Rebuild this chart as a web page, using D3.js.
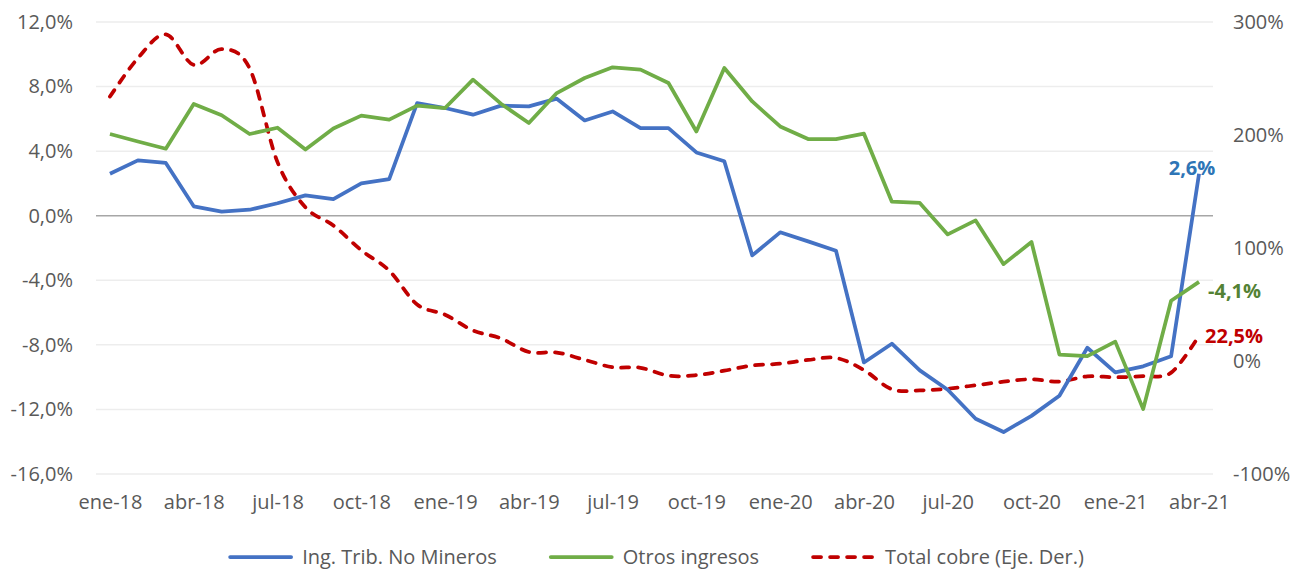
<!DOCTYPE html>
<html>
<head>
<meta charset="utf-8">
<script src="https://cdn.jsdelivr.net/npm/d3@7"></script>
<style>
  body { margin: 0; background: #fff; }
  text { font-family: "Open Sans", "Noto Sans", sans-serif; }
</style>
</head>
<body>
<svg id="chart" width="1311" height="572"></svg>
<script>
// months ene-18 .. abr-21
var months = ["ene-18","feb-18","mar-18","abr-18","may-18","jun-18","jul-18","ago-18","sep-18","oct-18","nov-18","dic-18",
  "ene-19","feb-19","mar-19","abr-19","may-19","jun-19","jul-19","ago-19","sep-19","oct-19","nov-19","dic-19",
  "ene-20","feb-20","mar-20","abr-20","may-20","jun-20","jul-20","ago-20","sep-20","oct-20","nov-20","dic-20",
  "ene-21","feb-21","mar-21","abr-21"];

var ingTrib = [2.6, 3.43, 3.27, 0.58, 0.25, 0.37, 0.77, 1.26, 1.03, 2.0, 2.27, 6.98,
  6.67, 6.26, 6.82, 6.77, 7.25, 5.9, 6.46, 5.43, 5.43, 3.92, 3.37, -2.46,
  -1.03, -1.59, -2.17, -9.09, -7.93, -9.58, -10.78, -12.58, -13.4, -12.4, -11.15, -8.18,
  -9.7, -9.33, -8.71, 2.6];

var otros = [5.06, 4.6, 4.15, 6.92, 6.22, 5.06, 5.45, 4.1, 5.4, 6.2, 5.95, 6.82,
  6.67, 8.43, 6.94, 5.74, 7.6, 8.53, 9.19, 9.05, 8.22, 5.22, 9.15, 7.08,
  5.53, 4.75, 4.75, 5.08, 0.87, 0.79, -1.16, -0.29, -3.0, -1.63, -8.6, -8.7,
  -7.8, -11.98, -5.27, -4.1];

var cobre = [234, 268, 289, 262, 276, 259, 176, 136, 120, 98, 80, 50,
  41, 27, 20, 8, 7.5, 1, -5.5, -6, -13, -12.5, -8.6, -4,
  -2.4, 0.9, 2.7, -8, -25, -26, -24.5, -21.5, -18.3, -16.2, -18.3, -13.6,
  -14.4, -13.3, -10.3, 22.5];

var leftTicks = [12, 8, 4, 0, -4, -8, -12, -16];
var rightTicks = [300, 200, 100, 0, -100];
var xLabels = ["ene-18","abr-18","jul-18","oct-18","ene-19","abr-19","jul-19","oct-19","ene-20","abr-20","jul-20","oct-20","ene-21","abr-21"];

var seriesNames = ["Ing. Trib. No Mineros", "Otros ingresos", "Total cobre (Eje. Der.)"];
var seriesColors = ["#4472C4", "#70AD47", "#C00000"];
var labelColors = ["#2E75B6", "#548235", "#C00000"];

var svg = d3.select("#chart");

var plot = {left: 96, right: 1213, top: 22, bottom: 474};

var x = d3.scalePoint().domain(months).range([plot.left, plot.right]).padding(0.5);
var yL = d3.scaleLinear().domain([-16, 12]).range([plot.bottom, plot.top]);
var yR = d3.scaleLinear().domain([-100, 300]).range([plot.bottom, plot.top]);

// spanish style: comma decimal, plain hyphen for negatives
var fmt = function(v) { return d3.format(".1f")(v).replace(".", ",").replace("\u2212", "-") + "%"; };

// gridlines
svg.append("g").selectAll("line")
  .data(leftTicks.filter(function(d) { return d !== 0; }))
  .join("line")
  .attr("x1", plot.left).attr("x2", plot.right)
  .attr("y1", function(d) { return yL(d); }).attr("y2", function(d) { return yL(d); })
  .style("stroke", "#EDEDED").style("stroke-width", 1.5);

// zero line (category axis)
svg.append("line")
  .attr("x1", plot.left).attr("x2", plot.right)
  .attr("y1", yL(0)).attr("y2", yL(0))
  .style("stroke", "#A6A6A6").style("stroke-width", 1.5);

// left axis
var leftAxis = svg.append("g")
  .attr("transform", "translate(" + (plot.left - 23) + ",0)")
  .call(d3.axisLeft(yL).tickValues(leftTicks).tickFormat(fmt).tickSize(0).tickPadding(0));
leftAxis.select(".domain").remove();
leftAxis.selectAll("text").style("font-size", "20px").style("fill", "#595959")
  .style("font-family", "'Open Sans', sans-serif");

// right axis
var rightAxis = svg.append("g")
  .attr("transform", "translate(" + (plot.right + 20) + ",0)")
  .call(d3.axisRight(yR).tickValues(rightTicks).tickFormat(function(d) { return String(d) + "%"; }).tickSize(0).tickPadding(0));
rightAxis.select(".domain").remove();
rightAxis.selectAll("text").style("font-size", "20px").style("fill", "#595959")
  .style("font-family", "'Open Sans', sans-serif");

// bottom axis
var bottomAxis = svg.append("g")
  .attr("transform", "translate(0," + (plot.bottom + 21) + ")")
  .call(d3.axisBottom(x).tickValues(xLabels).tickSize(0).tickPadding(0));
bottomAxis.select(".domain").remove();
bottomAxis.selectAll("text").style("font-size", "20px").style("fill", "#595959")
  .style("font-family", "'Open Sans', sans-serif");

// lines
var lineL = d3.line()
  .x(function(d, i) { return x(months[i]); })
  .y(function(d) { return yL(d); });

var lineR = d3.line()
  .x(function(d, i) { return x(months[i]); })
  .y(function(d) { return yR(d); })
  .curve(d3.curveCardinal.tension(0));

svg.append("path")
  .datum(cobre)
  .attr("d", lineR)
  .style("fill", "none")
  .style("stroke", seriesColors[2])
  .style("stroke-width", 3.75)
  .style("stroke-dasharray", "8,9")
  .style("stroke-linecap", "round");

svg.append("path")
  .datum(ingTrib)
  .attr("d", lineL)
  .style("fill", "none")
  .style("stroke", seriesColors[0])
  .style("stroke-width", 3.75)
  .style("stroke-linejoin", "round");

svg.append("path")
  .datum(otros)
  .attr("d", lineL)
  .style("fill", "none")
  .style("stroke", seriesColors[1])
  .style("stroke-width", 3.75)
  .style("stroke-linejoin", "round");

// end labels
var last = months.length - 1;
var lx = x(months[last]);

svg.append("text")
  .attr("x", lx - 7)
  .attr("y", yL(ingTrib[last]) + 1)
  .style("text-anchor", "middle")
  .style("font-size", "20px").style("font-weight", "bold")
  .style("fill", labelColors[0])
  .text(fmt(ingTrib[last]));

svg.append("text")
  .attr("x", lx + 9)
  .attr("y", yL(otros[last]) + 9)
  .attr("dy", "0.35em")
  .style("text-anchor", "start")
  .style("font-size", "20px").style("font-weight", "bold")
  .style("fill", labelColors[1])
  .text(fmt(otros[last]));

svg.append("text")
  .attr("x", lx + 6)
  .attr("y", yR(cobre[last]))
  .attr("dy", "0.35em")
  .style("text-anchor", "start")
  .style("font-size", "20px").style("font-weight", "bold")
  .style("fill", labelColors[2])
  .text(fmt(cobre[last]));

// legend
var legend = svg.append("g");
var lgX = 0;
seriesNames.forEach(function(name, i) {
  var g = legend.append("g").attr("transform", "translate(" + lgX + ",0)");
  g.append("line")
    .attr("x1", 2).attr("x2", 63).attr("y1", 0).attr("y2", 0)
    .style("stroke", seriesColors[i])
    .style("stroke-width", 3.75)
    .style("stroke-linecap", "round")
    .style("stroke-dasharray", i === 2 ? "8,9" : null);
  var t = g.append("text")
    .attr("x", 74).attr("y", 0).attr("dy", "0.35em")
    .style("font-size", "20px").style("fill", "#595959")
    .text(name);
  lgX += 74 + t.node().getComputedTextLength() + 52;
});
var lgWidth = lgX - 52;
legend.attr("transform", "translate(" + (656 - lgWidth / 2) + ",557)");
</script>
</body>
</html>
